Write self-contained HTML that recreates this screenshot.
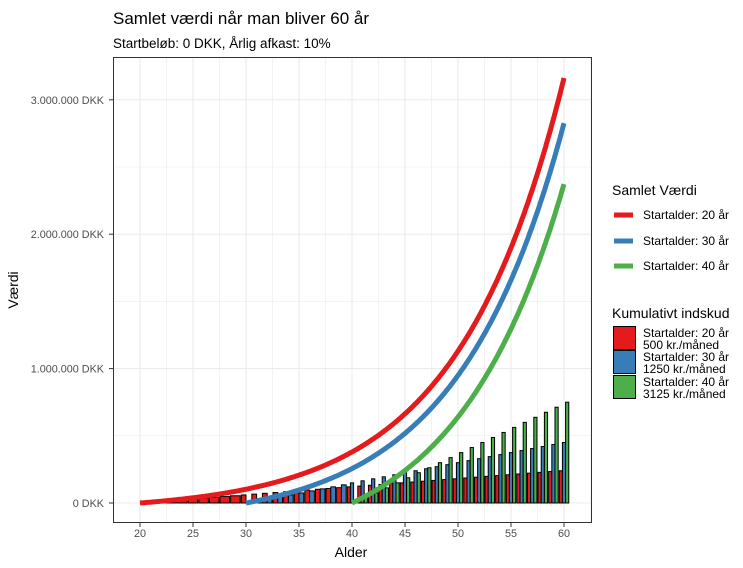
<!DOCTYPE html>
<html><head><meta charset="utf-8"><style>
body{margin:0;background:#fff;font-family:"Liberation Sans",sans-serif}
svg text{font-family:"Liberation Sans",sans-serif}
</style></head><body>
<svg id="s" width="743" height="563" xmlns="http://www.w3.org/2000/svg">
<rect width="743" height="563" fill="#fff"/>
<text x="113" y="24" font-size="17" fill="#000">Samlet værdi når man bliver 60 år</text>
<text x="113" y="48" font-size="13.5" fill="#000">Startbeløb: 0 DKK, Årlig afkast: 10%</text>
<g id="grid"></g><g id="bars"></g><g id="lines"></g>
<rect x="113.5" y="57.5" width="478" height="465" fill="none" stroke="#333" stroke-width="1"/>
<g id="ax" font-size="10.8" fill="#4d4d4d"></g>
<text x="351" y="557" font-size="14" text-anchor="middle">Alder</text>
<text transform="translate(18,290) rotate(-90)" font-size="14" text-anchor="middle">Værdi</text>
<g font-size="14"><text x="612" y="195">Samlet Værdi</text>
<text x="612" y="318">Kumulativt indskud</text></g>
<g stroke-width="5"><line x1="614" x2="633" y1="215" y2="215" stroke="#E41A1C"/>
<line x1="614" x2="633" y1="241" y2="241" stroke="#377EB8"/>
<line x1="614" x2="633" y1="266" y2="266" stroke="#4DAF4A"/></g>
<g font-size="12"><text x="643" y="219">Startalder: 20 år</text><text x="643" y="245">Startalder: 30 år</text><text x="643" y="270">Startalder: 40 år</text></g>
<g stroke="#000" stroke-width="1"><rect x="613.5" y="326.5" width="22" height="23" fill="#E41A1C"/>
<rect x="613.5" y="350.5" width="22" height="23" fill="#377EB8"/>
<rect x="613.5" y="375.5" width="22" height="23" fill="#4DAF4A"/></g>
<g font-size="12"><text x="643" y="337">Startalder: 20 år</text><text x="643" y="349">500 kr./måned</text>
<text x="643" y="361">Startalder: 30 år</text><text x="643" y="373">1250 kr./måned</text>
<text x="643" y="386">Startalder: 40 år</text><text x="643" y="398">3125 kr./måned</text></g>
</svg>
<script>
const NS="http://www.w3.org/2000/svg";
function el(p,t,a){const e=document.createElementNS(NS,t);for(const k in a)e.setAttribute(k,a[k]);document.getElementById(p).appendChild(e);return e;}
const X=a=>140+(a-20)*10.6, Y=v=>503-v/1e6*134.4;
for(let a=17.5;a<=62.5;a+=2.5){const x=X(a);if(x<114||x>591)continue;el("grid","line",{x1:x,x2:x,y1:58,y2:522,stroke:"#ebebeb","stroke-width":(a%5==0)?1.1:0.6});}
for(let v=0;v<=3.5e6;v+=5e5){const y=Y(v);if(y<58)continue;el("grid","line",{x1:114,x2:591,y1:y,y2:y,stroke:"#ebebeb","stroke-width":(v%1e6==0)?1.1:0.6});}
const labs=["0 DKK","1.000.000 DKK","2.000.000 DKK","3.000.000 DKK"];
labs.forEach((l,i)=>{const y=Y(i*1e6);el("ax","text",{x:104,y:y+4,"text-anchor":"end"}).textContent=l;el("ax","line",{x1:109,x2:113,y1:y,y2:y,stroke:"#333"});});
for(let a=20;a<=60;a+=5){const x=X(a);el("ax","text",{x:x,y:537,"text-anchor":"middle"}).textContent=a;el("ax","line",{x1:x,x2:x,y1:523,y2:527,stroke:"#333"});}
const S=[{s:20,m:500,c:"#E41A1C"},{s:30,m:1250,c:"#377EB8"},{s:40,m:3125,c:"#4DAF4A"}];
const w=0.9*10.6;
for(let a=20;a<=60;a++){const act=S.filter(o=>a>=o.s);const n=act.length,bw=w/n;
act.forEach((o,i)=>{const v=(a-o.s)*o.m*12;const x=X(a)-w/2+i*bw;const y=Y(v);
el("bars","rect",{x:x,y:y,width:bw,height:503-y,fill:o.c,stroke:"#000","stroke-width":1});});}
const r=0.1/12;
S.forEach(o=>{let pts=[],fv=0;for(let m=0;m<=(60-o.s)*12;m++){pts.push(X(o.s+m/12).toFixed(1)+","+Y(fv).toFixed(1));fv=fv*(1+r)+o.m;}
el("lines","polyline",{points:pts.join(" "),fill:"none",stroke:o.c,"stroke-width":5});});
</script>
</body></html>
